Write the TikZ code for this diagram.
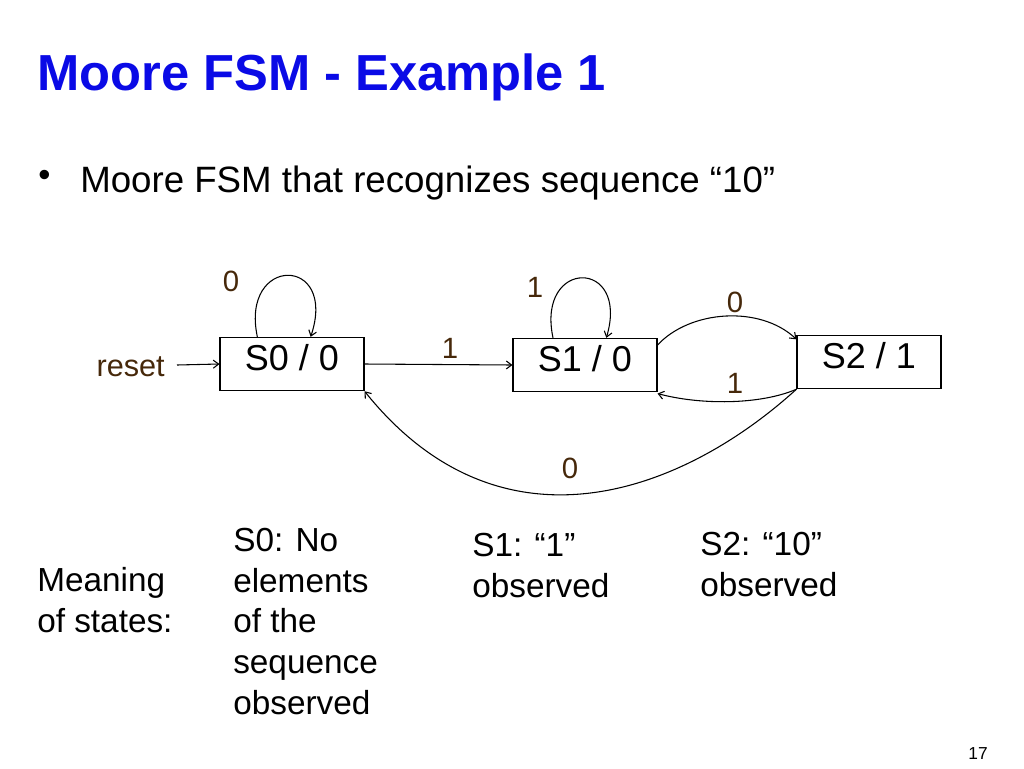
\documentclass[tikz,border=0pt]{standalone}
\usepackage{fontspec}
\setmainfont{Liberation Sans}
\usetikzlibrary{arrows.meta}
\definecolor{titleblue}{RGB}{10,10,230}
\definecolor{lbl}{RGB}{70,40,10}
\begin{document}
\begin{tikzpicture}[x=0.75pt,y=-0.75pt,
  st/.style={draw,thick,minimum width=108pt,minimum height=40pt,inner sep=0pt,text depth=10pt,font=\fontsize{27}{30}\selectfont},
  lab/.style={text=lbl,font=\fontsize{22}{26}\selectfont,inner sep=0pt},
  txt/.style={anchor=north west,align=left,font=\fontsize{25}{30.5}\selectfont,inner sep=0pt},
  ar/.style={-{Straight Barb[length=4pt,width=6pt]},thick}]
\useasboundingbox (0,0) rectangle (1024,768);
\node[anchor=base west,inner sep=0pt,text=titleblue,font=\bfseries\fontsize{38}{44}\selectfont] (title) at (37,90) {Moore FSM - Example 1};
\node[anchor=base west,inner sep=0pt,font=\fontsize{26}{32}\selectfont] (bul) at (38,186) {\textbullet};
\node[anchor=base west,inner sep=0pt,font=\fontsize{27.5}{32}\selectfont] (sub) at (80,192) {Moore FSM that recognizes sequence “10”};
\node[st] (s0) at (292,364) {S0 / 0};
\node[st] (s1) at (585,365) {S1 / 0};
\node[st] (s2) at (869,362) {S2 / 1};
\node[lab,anchor=east,font=\fontsize{23}{26}\selectfont] (reset) at (165,367) {reset};
\draw[ar] (reset.east)++(12,-2) coordinate (r0) -- (s0.west);
\draw[ar] ([xshift=-26pt]s0.north) .. controls (240,255) and (338,255) .. ([xshift=14pt]s0.north);
\node[lab] (l0) at (231,281) {0};
\draw[ar] ([xshift=-24pt]s1.north) .. controls (536,258) and (630,258) .. ([xshift=16pt]s1.north);
\node[lab] (l1) at (535,287) {1};
\draw[ar] (s0.east) -- (s1.west);
\node[lab] (l2) at (450,348) {1};
\draw[ar] ([yshift=15pt]s1.east) .. controls (690,310) and (760,305) .. ([yshift=17pt]s2.west);
\node[lab] (l3) at (735,302) {0};
\draw[ar] (s2.south west) .. controls (760,405) and (700,405) .. ([yshift=-1pt]s1.south east);
\node[lab] (l4) at (735,383) {1};
\draw[ar] (s2.south west) .. controls (680,495) and (500,560) .. (s0.south east);
\node[lab] (l5) at (570,468) {0};
\node[txt] (m) at (37,567) {Meaning\\of states:};
\node[txt] (d0) at (233,528) {S0: No\\elements\\of the\\sequence\\observed};
\node[txt] (d1) at (472,533) {S1: “1”\\observed};
\node[txt] (d2) at (700,532) {S2: “10”\\observed};
\node[anchor=base,inner sep=0pt,font=\fontsize{13}{15}\selectfont] (pg) at (978,759) {17};
\end{tikzpicture}
\end{document}
